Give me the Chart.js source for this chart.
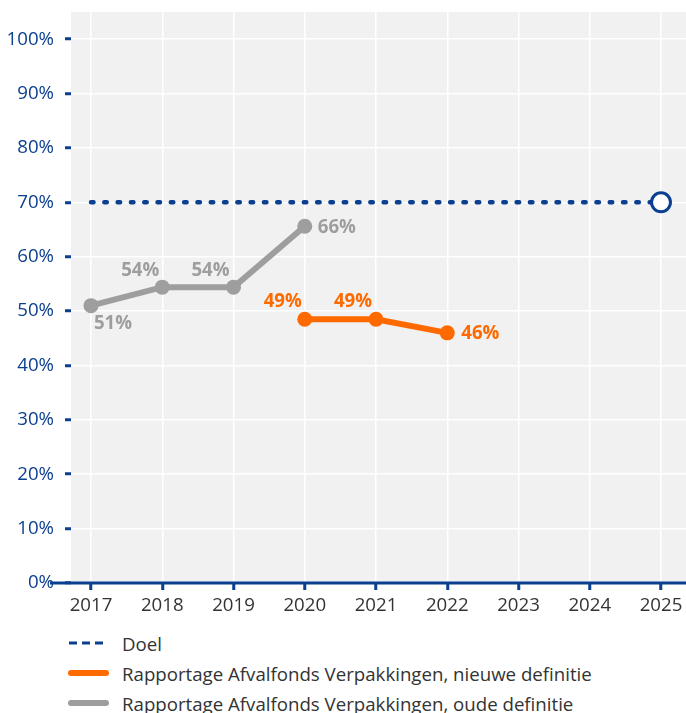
<!DOCTYPE html>
<html>
<head>
<meta charset="utf-8">
<script src="https://cdn.jsdelivr.net/npm/chart.js@4"></script>
<style>
  html, body { margin: 0; background: #fff; overflow: hidden; }
  #wrap { position: relative; width: 686px; height: 625px; }
  #legend { position: absolute; left: 68px; top: 628px; font-family: 'Open Sans', sans-serif; font-size: 18.67px; color: #333; }
  .item { display: flex; align-items: center; height: 30px; white-space: nowrap; }
  .item svg { margin-right: 12px; }
</style>
</head>
<body>
<div id="wrap"><canvas id="chart" width="686" height="625"></canvas></div>
<div id="legend"></div>
<script>
// Years on the x axis
const years = [2017, 2018, 2019, 2020, 2021, 2022, 2023, 2024, 2025];

// Target line (Doel) from 2017 to 2025
const targetYears = [2017, 2025];
const targetValues = [70, 70];

// New definition (orange)
const newYears = [2020, 2021, 2022];
const newValues = [48.5, 48.5, 46];
const newLabels = ['49%', '49%', '46%'];

// Old definition (grey)
const oldYears = [2017, 2018, 2019, 2020];
const oldValues = [51, 54.4, 54.4, 65.6];
const oldLabels = ['51%', '54%', '54%', '66%'];

const blue = '#0b3f8f';
const orange = '#ff6a00';
const grey = '#9e9e9e';
const fontSize = 18.67; // 14pt

const toPoints = (xs, ys) => xs.map((x, i) => ({ x, y: ys[i] }));

// Label placement per point: [dx, dy, align]
const newPlacement = [[-22, -18, 'center'], [-23, -18, 'center'], [14, 1, 'left']];
const oldPlacement = [[22, 18, 'center'], [-22, -16, 'center'], [-23, -16, 'center'], [13, 1, 'left']];

// Plugin: grey plot background and the x axis line that runs a bit past the plot
const plotDecor = {
    id: 'plotDecor',
    beforeDraw(chart) {
        const { ctx, chartArea: a } = chart;
        ctx.save();
        ctx.fillStyle = '#f1f1f1';
        ctx.fillRect(a.left, a.top, a.right - a.left, a.bottom - a.top);
        ctx.restore();
    },
    afterDraw(chart) {
        const { ctx, chartArea: a } = chart;
        ctx.save();
        ctx.strokeStyle = blue;
        ctx.lineWidth = 3;
        ctx.beginPath();
        ctx.moveTo(a.left - 21, a.bottom);
        ctx.lineTo(a.right, a.bottom);
        ctx.stroke();
        ctx.restore();
    }
};

// Plugin: value labels next to points
const valueLabels = {
    id: 'valueLabels',
    afterDatasetsDraw(chart) {
        const { ctx } = chart;
        chart.data.datasets.forEach((ds, i) => {
            if (!ds.valueLabels) return;
            const meta = chart.getDatasetMeta(i);
            ctx.save();
            ctx.font = 'bold ' + fontSize + 'px "Open Sans"';
            ctx.fillStyle = ds.borderColor;
            ctx.textBaseline = 'middle';
            meta.data.forEach((pt, j) => {
                const [dx, dy, align] = ds.labelPlacement[j];
                ctx.textAlign = align;
                ctx.fillText(ds.valueLabels[j], pt.x + dx, pt.y + dy);
            });
            ctx.restore();
        });
    }
};

const chart = new Chart(document.getElementById('chart'), {
    type: 'line',
    data: {
        datasets: [
            {
                label: 'Doel',
                data: toPoints(targetYears, targetValues),
                borderColor: blue,
                borderWidth: 4.5,
                borderDash: [2.5, 10.8],
                borderCapStyle: 'round',
                pointRadius: c => c.dataIndex === targetYears.length - 1 ? 9.5 : 0,
                pointBackgroundColor: '#fff',
                pointBorderColor: blue,
                pointBorderWidth: 3
            },
            {
                label: 'Rapportage Afvalfonds Verpakkingen, nieuwe definitie',
                data: toPoints(newYears, newValues),
                borderColor: orange,
                backgroundColor: orange,
                borderWidth: 6,
                pointRadius: 7.5,
                pointBackgroundColor: orange,
                pointBorderWidth: 0,
                valueLabels: newLabels,
                labelPlacement: newPlacement
            },
            {
                label: 'Rapportage Afvalfonds Verpakkingen, oude definitie',
                data: toPoints(oldYears, oldValues),
                borderColor: grey,
                backgroundColor: grey,
                borderWidth: 6,
                pointRadius: 7.5,
                pointBackgroundColor: grey,
                pointBorderWidth: 0,
                valueLabels: oldLabels,
                labelPlacement: oldPlacement
            }
        ]
    },
    options: {
        responsive: false,
        animation: false,
        layout: { autoPadding: false, padding: { top: 12, left: 0, right: 0, bottom: 0 } },
        plugins: {
            legend: { display: false },
            tooltip: { enabled: false }
        },
        scales: {
            x: {
                type: 'linear',
                min: 2016.719,
                max: 2025.351,
                afterBuildTicks: scale => { scale.ticks = years.map(v => ({ value: v })); },
                afterFit: scale => { scale.height = 42; scale.paddingLeft = 0; scale.paddingRight = 0; },
                grid: { color: '#fff', lineWidth: 1.5, tickColor: blue, tickLength: 7, tickWidth: 3 },
                border: { display: false },
                ticks: {
                    callback: v => String(v),
                    color: '#333',
                    padding: 4,
                    maxRotation: 0,
                    autoSkip: false,
                    font: { family: "'Open Sans'", size: fontSize }
                }
            },
            y: {
                min: 0,
                max: 105,
                afterBuildTicks: scale => { scale.ticks = scale.ticks.filter(t => t.value <= 100 && t.value % 10 === 0); },
                afterFit: scale => { scale.width = 71; scale.paddingTop = 0; scale.paddingBottom = 0; },
                grid: { color: '#fff', lineWidth: 1.5, tickColor: blue, tickLength: 6, tickWidth: 3 },
                border: { display: false },
                ticks: {
                    stepSize: 10,
                    callback: v => v + '%',
                    color: blue,
                    padding: 11,
                    font: { family: "'Open Sans'", size: fontSize }
                }
            }
        }
    },
    plugins: [plotDecor, valueLabels]
});

// HTML legend, one entry per row
const legendSamples = [
    '<line x1="1" y1="6" x2="35" y2="6" stroke="' + blue + '" stroke-width="3" stroke-dasharray="8 5"/>',
    '<line x1="3" y1="6" x2="38" y2="6" stroke="' + orange + '" stroke-width="6" stroke-linecap="round"/>',
    '<line x1="3" y1="6" x2="38" y2="6" stroke="' + grey + '" stroke-width="6" stroke-linecap="round"/>'
];
document.getElementById('legend').innerHTML = chart.data.datasets.map((ds, i) =>
    '<div class="item"><svg width="42" height="12">' + legendSamples[i] + '</svg><span>' + ds.label + '</span></div>'
).join('');
</script>
</body>
</html>
